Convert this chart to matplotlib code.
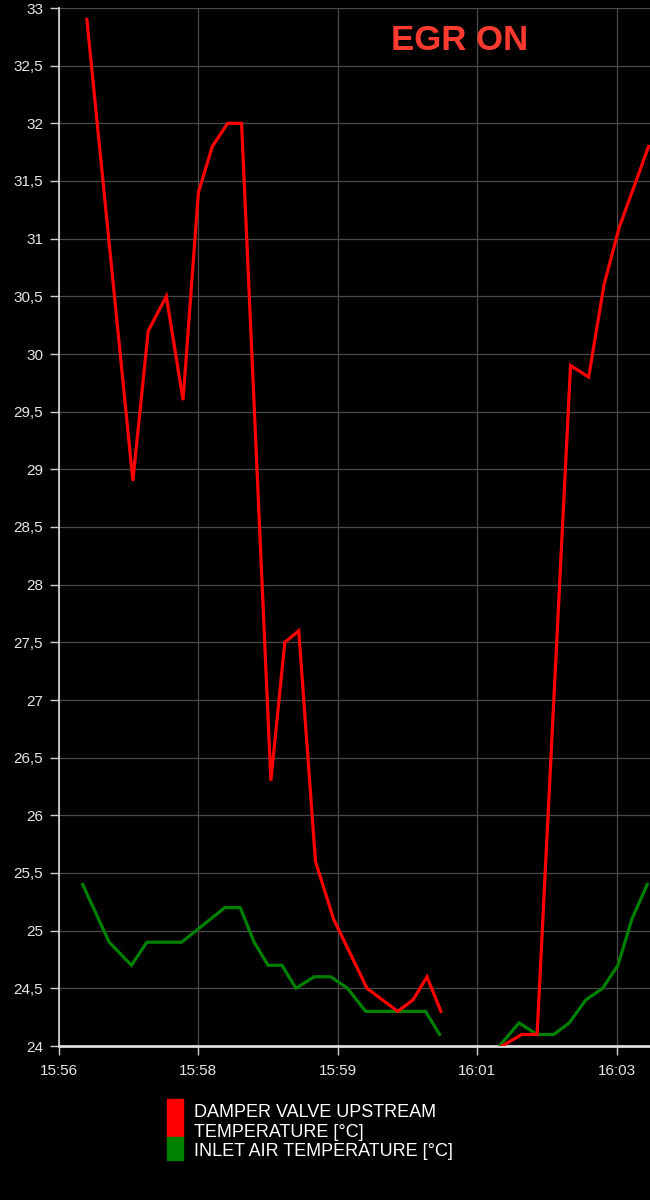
import numpy as np
import pandas as pd
import matplotlib
matplotlib.use('Agg')
import matplotlib.pyplot as plt
from matplotlib.patches import Rectangle

plt.rcParams['font.family'] = ['Liberation Sans', 'DejaVu Sans']

day = '2023-01-01 '

# damper valve upstream temperature (red)
red_time = ['15:56:20', '15:56:53', '15:57:04', '15:57:17', '15:57:29', '15:57:40',
            '15:57:50', '15:58:01', '15:58:11', '15:58:32', '15:58:42', '15:58:52',
            '15:59:04', '15:59:17', '15:59:41', '16:00:03', '16:00:14', '16:00:24',
            '16:00:34', '16:00:55', '16:01:18', '16:01:32', '16:01:43', '16:02:07',
            '16:02:20', '16:02:31', '16:02:42', '16:02:54', '16:03:03']
red_val = [32.9, 28.9, 30.2, 30.5, 29.6, 31.4,
           31.8, 32.0, 32.0, 26.3, 27.5, 27.6,
           25.6, 25.1, 24.5, 24.3, 24.4, 24.6,
           24.3, None, 24.0, 24.1, 24.1, 29.9,
           29.8, 30.6, 31.1, 31.5, 31.8]

# inlet air temperature (green)
green_time = ['15:56:17', '15:56:36', '15:56:52', '15:57:03', '15:57:28', '15:57:59',
              '15:58:10', '15:58:20', '15:58:30', '15:58:40', '15:58:50', '15:59:03',
              '15:59:15', '15:59:27', '15:59:40', '16:00:23', '16:00:33', '16:00:55',
              '16:01:16', '16:01:30', '16:01:43', '16:01:55', '16:02:06', '16:02:18',
              '16:02:30', '16:02:41', '16:02:51', '16:03:02']
green_val = [25.4, 24.9, 24.7, 24.9, 24.9, 25.2,
             25.2, 24.9, 24.7, 24.7, 24.5, 24.6,
             24.6, 24.5, 24.3, 24.3, 24.1, None,
             24.0, 24.2, 24.1, 24.1, 24.2, 24.4,
             24.5, 24.7, 25.1, 25.4]

tick_time = ['15:56:00', '15:57:40', '15:59:20', '16:01:00', '16:02:40']
tick_lbl = ['15:56', '15:58', '15:59', '16:01', '16:03']
y_ticks = np.arange(24, 33.01, 0.5)

rt = pd.to_datetime([day + t for t in red_time])
gt = pd.to_datetime([day + t for t in green_time])
rv = np.array([np.nan if v is None else v for v in red_val], dtype=float)
gv = np.array([np.nan if v is None else v for v in green_val], dtype=float)

fig = plt.figure(figsize=(6.5, 12), dpi=100, facecolor='black')
ax = fig.add_axes([59/650, 1 - 1046/1200, 1 - 59/650, (1046 - 8)/1200])
ax.set_facecolor('black')

ax.plot(gt, gv, color='#008000', lw=2.3, solid_joinstyle='miter', zorder=3)
ax.plot(rt, rv, color='#ff0000', lw=2.3, solid_joinstyle='miter', zorder=4)

ax.set_ylim(24, 33)
ax.set_xlim(pd.Timestamp(day + '15:56:00'), pd.Timestamp(day + '16:03:04'))
ax.set_yticks(y_ticks)
ax.set_yticklabels([('%g' % v).replace('.', ',') for v in y_ticks])
ax.set_xticks(pd.to_datetime([day + t for t in tick_time]))
ax.set_xticklabels(tick_lbl)

ax.grid(True, color='#4a4a4a', lw=0.9)
ax.set_axisbelow(True)
for s in ['top', 'right']:
    ax.spines[s].set_visible(False)
ax.spines['left'].set_color('#cfcfcf')
ax.spines['left'].set_linewidth(1.3)
ax.spines['bottom'].set_color('#dcdcdc')
ax.spines['bottom'].set_linewidth(2)
ax.tick_params(axis='y', colors='#cfcfcf', labelcolor='#e6e6e6', labelsize=11,
               length=6.5, width=1, pad=5)
ax.tick_params(axis='x', colors='#cfcfcf', labelcolor='#e6e6e6', labelsize=11,
               length=6.5, width=1, pad=6.5)

fig.text(460/650, 1 - 40/1200, 'EGR ON', color='#ff3b30', fontsize=25,
         fontweight='bold', ha='center', va='center')

# legend
fig.patches.append(Rectangle((167/650, 1 - 1137/1200), 16/650, 38/1200,
                             transform=fig.transFigure, color='#ff0000'))
fig.patches.append(Rectangle((167/650, 1 - 1160/1200), 16/650, 23/1200,
                             transform=fig.transFigure, color='#008000'))
fig.text(194/650, 1 - 1117/1200, 'DAMPER VALVE UPSTREAM', color='white',
         fontsize=13, va='baseline')
fig.text(194/650, 1 - 1137/1200, 'TEMPERATURE [°C]', color='white',
         fontsize=13, va='baseline')
fig.text(194/650, 1 - 1156/1200, 'INLET AIR TEMPERATURE [°C]', color='white',
         fontsize=13, va='baseline')

fig.savefig('out.png', dpi=100, facecolor='black')
